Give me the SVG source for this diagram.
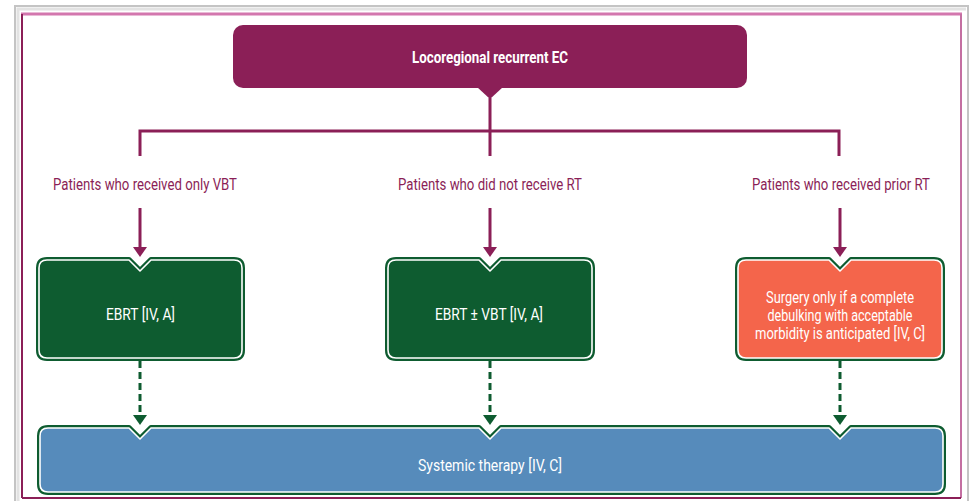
<svg xmlns="http://www.w3.org/2000/svg" width="973" height="501" viewBox="0 0 973 501">
<style>
.t{font-family:Roboto,"Liberation Sans",sans-serif;font-size:16px;text-anchor:middle}
.w{fill:#ffffff}
.m{fill:#8B1F57}
.conn{stroke:#8B1F57;stroke-width:3;fill:none}
.dash{stroke:#0E5C30;stroke-width:3;fill:none;stroke-dasharray:7 4}
.outer{stroke:#0E5C30;stroke-width:6;fill:none;stroke-linejoin:round}
.inner{stroke:#ffffff;stroke-width:1.6;stroke-linejoin:round}
</style>
<defs>
<marker id="am" markerUnits="userSpaceOnUse" viewBox="0 0 10 14" markerWidth="10" markerHeight="14" refX="1" refY="7" orient="auto"><path d="M0,0 L10,7 L0,14 Z" fill="#8B1F57"/></marker>
<marker id="ag" markerUnits="userSpaceOnUse" viewBox="0 0 10 14" markerWidth="10" markerHeight="14" refX="1" refY="7" orient="auto"><path d="M0,0 L10,7 L0,14 Z" fill="#0E5C30"/></marker>
</defs>
<rect width="973" height="501" fill="#ffffff"/>
<g id="frame">
<path d="M15,501 V6 H968 V501" fill="none" stroke="#c4c4c4" stroke-width="2"/>
<path d="M18,501 V9 H966" fill="none" stroke="#e2e2e2" stroke-width="3"/>
<path d="M21,14 H962" stroke="#D377AE" stroke-width="3"/>
<path d="M22,14 V498" stroke="#8B1F57" stroke-width="2"/>
<path d="M961,14 V498" stroke="#C46FA2" stroke-width="2"/>
<path d="M22,498 H961" stroke="#8B1F57" stroke-width="2"/>
</g>
<g id="connectors">
<path class="conn" d="M490,98 V131 M140,156 V131 H839 V156 M490,131 V156"/>
<line class="conn" x1="140" y1="208" x2="140" y2="248" marker-end="url(#am)"/>
<line class="conn" x1="490" y1="208" x2="490" y2="248" marker-end="url(#am)"/>
<line class="conn" x1="840" y1="208" x2="840" y2="248" marker-end="url(#am)"/>
<line class="dash" x1="140" y1="361" x2="140" y2="416" marker-end="url(#ag)"/>
<line class="dash" x1="490" y1="361" x2="490" y2="416" marker-end="url(#ag)"/>
<line class="dash" x1="840" y1="361" x2="840" y2="416" marker-end="url(#ag)"/>
</g>
<g id="n-top">
<rect x="233" y="25" width="514" height="63" rx="10" fill="#8B1F57"/>
<path d="M477,87 L503,87 L490,99 Z" fill="#8B1F57"/>
<text class="t w" x="490" y="62.5" font-weight="bold" textLength="156" lengthAdjust="spacingAndGlyphs">Locoregional recurrent EC</text>
</g>
<g id="l-vbt"><text class="t m" x="145" y="190" textLength="184" lengthAdjust="spacingAndGlyphs">Patients who received only VBT</text></g>
<g id="l-nort"><text class="t m" x="490" y="190" textLength="184" lengthAdjust="spacingAndGlyphs">Patients who did not receive RT</text></g>
<g id="l-prior"><text class="t m" x="841" y="190" textLength="178" lengthAdjust="spacingAndGlyphs">Patients who received prior RT</text></g>
<g id="n-ebrt">
<path class="outer" d="M47,260 H129 L140,271 L151,260 H234 Q242,260 242,268 V350 Q242,358 234,358 H47 Q39,358 39,350 V268 Q39,260 47,260 Z"/>
<path class="inner" fill="#0E5C30" d="M47,260 H129 L140,271 L151,260 H234 Q242,260 242,268 V350 Q242,358 234,358 H47 Q39,358 39,350 V268 Q39,260 47,260 Z"/>
<text class="t w" x="140.5" y="320" textLength="69" lengthAdjust="spacingAndGlyphs">EBRT [IV, A]</text>
</g>
<g id="n-ebrtvbt">
<path class="outer" d="M396,260 H479 L490,271 L501,260 H584 Q592,260 592,268 V350 Q592,358 584,358 H396 Q388,358 388,350 V268 Q388,260 396,260 Z"/>
<path class="inner" fill="#0E5C30" d="M396,260 H479 L490,271 L501,260 H584 Q592,260 592,268 V350 Q592,358 584,358 H396 Q388,358 388,350 V268 Q388,260 396,260 Z"/>
<text class="t w" x="489" y="320" textLength="108" lengthAdjust="spacingAndGlyphs">EBRT ± VBT [IV, A]</text>
</g>
<g id="n-surgery">
<path class="outer" d="M746,260 H829 L840,271 L851,260 H934 Q942,260 942,268 V350 Q942,358 934,358 H746 Q738,358 738,350 V268 Q738,260 746,260 Z"/>
<path class="inner" fill="#F4654B" d="M746,260 H829 L840,271 L851,260 H934 Q942,260 942,268 V350 Q942,358 934,358 H746 Q738,358 738,350 V268 Q738,260 746,260 Z"/>
<text class="t w" x="840" y="302.5" textLength="148" lengthAdjust="spacingAndGlyphs">Surgery only if a complete</text>
<text class="t w" x="840" y="320.5" textLength="145" lengthAdjust="spacingAndGlyphs">debulking with acceptable</text>
<text class="t w" x="840" y="338.5" textLength="170" lengthAdjust="spacingAndGlyphs">morbidity is anticipated [IV, C]</text>
</g>
<g id="n-systemic">
<path class="outer" d="M48,428 H129 L140,439 L151,428 H479 L490,439 L501,428 H829 L840,439 L851,428 H935 Q943,428 943,436 V484 Q943,492 935,492 H48 Q40,492 40,484 V436 Q40,428 48,428 Z"/>
<path class="inner" fill="#568BBB" d="M48,428 H129 L140,439 L151,428 H479 L490,439 L501,428 H829 L840,439 L851,428 H935 Q943,428 943,436 V484 Q943,492 935,492 H48 Q40,492 40,484 V436 Q40,428 48,428 Z"/>
<text class="t w" x="490" y="470.5" textLength="144" lengthAdjust="spacingAndGlyphs">Systemic therapy [IV, C]</text>
</g>
</svg>
